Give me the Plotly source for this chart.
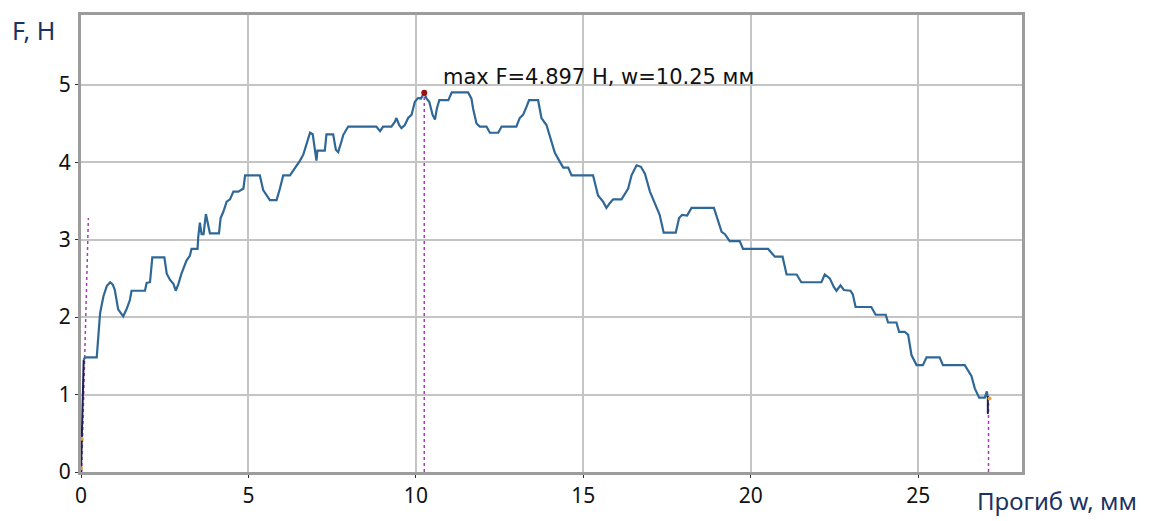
import plotly.graph_objects as go

# Load–deflection curve (bending test): deflection w in mm, force F in N
w_mm = [
    0.08, 0.12, 0.47, 0.52, 0.57, 0.67, 0.77, 0.87, 0.95, 1.01,
    1.11, 1.26, 1.36, 1.46, 1.51, 1.91, 1.96, 2.06, 2.13, 2.49,
    2.56, 2.66, 2.76, 2.83, 2.91, 3.00, 3.15, 3.25, 3.30, 3.48,
    3.50, 3.55, 3.60, 3.66, 3.73, 3.85, 4.12, 4.17, 4.25, 4.35,
    4.45, 4.55, 4.70, 4.85, 4.90, 5.34, 5.44, 5.64, 5.84, 5.94,
    6.04, 6.24, 6.34, 6.44, 6.54, 6.64, 6.74, 6.84, 6.92, 6.99,
    7.03, 7.06, 7.28, 7.33, 7.53, 7.61, 7.68, 7.78, 7.83, 7.98,
    8.82, 8.93, 9.02, 9.27, 9.37, 9.42, 9.50, 9.57, 9.67, 9.77,
    9.87, 9.97, 10.07, 10.15, 10.25, 10.32, 10.40, 10.50, 10.57, 10.63,
    10.70, 10.97, 11.07, 11.56, 11.66, 11.71, 11.81, 11.91, 12.11, 12.21,
    12.46, 12.56, 13.00, 13.10, 13.20, 13.30, 13.38, 13.65, 13.75, 13.90,
    14.05, 14.15, 14.28, 14.40, 14.55, 14.65, 15.29, 15.44, 15.59, 15.69,
    15.79, 15.89, 16.14, 16.27, 16.34, 16.44, 16.59, 16.72, 16.84, 16.99,
    17.13, 17.28, 17.40, 17.76, 17.86, 17.95, 18.10, 18.23, 18.90, 18.98,
    19.13, 19.23, 19.37, 19.67, 19.77, 20.52, 20.67, 20.72, 20.95, 21.07,
    21.37, 21.51, 22.11, 22.21, 22.36, 22.48, 22.56, 22.68, 22.78, 22.98,
    23.05, 23.13, 23.60, 23.73, 24.03, 24.10, 24.35, 24.43, 24.60, 24.70,
    24.80, 24.95, 25.14, 25.25, 25.64, 25.74, 26.39, 26.49, 26.59, 26.69,
    26.82, 26.99, 27.05, 27.08,
]
F_N = [
    1.45, 1.48, 1.48, 1.80, 2.05, 2.27, 2.40, 2.45, 2.42, 2.35,
    2.10, 2.01, 2.10, 2.22, 2.34, 2.34, 2.44, 2.45, 2.77, 2.77,
    2.56, 2.48, 2.43, 2.34, 2.43, 2.56, 2.73, 2.79, 2.88, 2.88,
    3.03, 3.22, 3.07, 3.07, 3.33, 3.08, 3.08, 3.28, 3.36, 3.49,
    3.52, 3.62, 3.62, 3.66, 3.83, 3.83, 3.64, 3.51, 3.51, 3.66,
    3.83, 3.83, 3.89, 3.95, 4.02, 4.10, 4.25, 4.38, 4.36, 4.15,
    4.02, 4.15, 4.15, 4.36, 4.36, 4.16, 4.13, 4.27, 4.35, 4.46,
    4.46, 4.40, 4.46, 4.46, 4.52, 4.57, 4.48, 4.44, 4.48, 4.57,
    4.61, 4.78, 4.83, 4.82, 4.897, 4.82, 4.78, 4.61, 4.55, 4.70,
    4.80, 4.80, 4.90, 4.90, 4.82, 4.69, 4.50, 4.46, 4.46, 4.38,
    4.38, 4.46, 4.46, 4.57, 4.61, 4.71, 4.80, 4.80, 4.57, 4.48,
    4.27, 4.12, 4.02, 3.93, 3.93, 3.83, 3.83, 3.57, 3.49, 3.41,
    3.47, 3.52, 3.52, 3.62, 3.66, 3.83, 3.96, 3.94, 3.85, 3.62,
    3.47, 3.32, 3.09, 3.09, 3.28, 3.32, 3.31, 3.41, 3.41, 3.30,
    3.10, 3.07, 2.98, 2.98, 2.88, 2.88, 2.81, 2.78, 2.78, 2.55,
    2.55, 2.45, 2.45, 2.55, 2.50, 2.39, 2.34, 2.41, 2.35, 2.34,
    2.29, 2.13, 2.13, 2.03, 2.03, 1.93, 1.93, 1.81, 1.81, 1.77,
    1.51, 1.38, 1.38, 1.48, 1.48, 1.38, 1.38, 1.30, 1.24, 1.08,
    0.96, 0.96, 1.04, 0.96,
]

# initial loading segment and final unloading segment
w_start = [0.0, 0.03, 0.08]
F_start = [0.0, 0.60, 1.45]
w_end = [27.08, 27.08]
F_end = [0.98, 0.75]

# tangent (elastic) line from the origin
w_tangent = [0.02, 0.22]
F_tangent = [0.0, 3.28]

# maximum point
w_max = 10.25
F_max = 4.897

# break point
w_break = 27.10
F_break = 0.96

# auxiliary markers
w_marks = [0.02, 0.0, 27.13]
F_marks = [0.43, 0.05, 0.95]

x_ticks = [0, 5, 10, 15, 20, 25]
y_ticks = [0, 1, 2, 3, 4, 5]

curve_color = "#2f6796"
aux_color = "#a33fb0"
grid_color = "#c4c4c4"
frame_color = "#9c9c9c"
title_color = "#1d3262"

fig = go.Figure()

# dotted helper lines
fig.add_trace(go.Scatter(x=w_tangent, y=F_tangent, mode="lines",
                         line=dict(color=aux_color, width=1.5, dash="dot"),
                         hoverinfo="skip", showlegend=False))
fig.add_trace(go.Scatter(x=[w_max, w_max], y=[0, F_max], mode="lines",
                         line=dict(color=aux_color, width=1.5, dash="dot"),
                         hoverinfo="skip", showlegend=False))
fig.add_trace(go.Scatter(x=[w_break, w_break], y=[0, F_break], mode="lines",
                         line=dict(color=aux_color, width=1.5, dash="dot"),
                         hoverinfo="skip", showlegend=False))

# measured curve
fig.add_trace(go.Scatter(x=w_mm, y=F_N, mode="lines",
                         line=dict(color=curve_color, width=2.2),
                         showlegend=False))
fig.add_trace(go.Scatter(x=w_start, y=F_start, mode="lines",
                         line=dict(color="#1c1f5a", width=2),
                         showlegend=False))
fig.add_trace(go.Scatter(x=w_end, y=F_end, mode="lines",
                         line=dict(color="#1c1f5a", width=2),
                         showlegend=False))

# markers
fig.add_trace(go.Scatter(x=w_marks, y=F_marks, mode="markers",
                         marker=dict(color="#f0a020", size=4),
                         showlegend=False))
fig.add_trace(go.Scatter(x=[w_max], y=[F_max], mode="markers",
                         marker=dict(color="#9a1010", size=6),
                         showlegend=False))

fig.add_annotation(x=w_max, y=F_max, xref="x", yref="y",
                   text=f"max F={F_max:.3f} Н, w={w_max:.2f} мм",
                   showarrow=False, xanchor="left", yanchor="middle",
                   xshift=17, yshift=16,
                   font=dict(family="DejaVu Sans", size=21, color="#111111"))

fig.add_annotation(x=-0.0755, y=0.968, xref="paper", yref="paper",
                   text="F, Н", showarrow=False, xanchor="left", yanchor="middle",
                   font=dict(family="Noto Sans", size=25, color=title_color))
fig.add_annotation(x=0.950, y=-0.062, xref="paper", yref="paper",
                   text="Прогиб w, мм", showarrow=False, xanchor="left",
                   yanchor="middle",
                   font=dict(family="Noto Sans", size=24, color=title_color))

axis_common = dict(
    showgrid=True, gridcolor=grid_color, gridwidth=2,
    zeroline=False, showline=True, linecolor=frame_color, linewidth=3,
    mirror=True, ticks="outside", ticklen=3, tickcolor="#333333",
    tickfont=dict(family="Noto Sans", size=21, color="#111111"),
)

fig.update_xaxes(range=[0, 28.1], tickvals=x_ticks, **axis_common)
fig.update_yaxes(range=[0, 5.9], tickvals=y_ticks, **axis_common)

fig.update_layout(
    width=1151, height=521,
    margin=dict(l=81, r=129, t=13, b=42),
    plot_bgcolor="white", paper_bgcolor="white",
    showlegend=False,
)

fig.write_html("out.html")
